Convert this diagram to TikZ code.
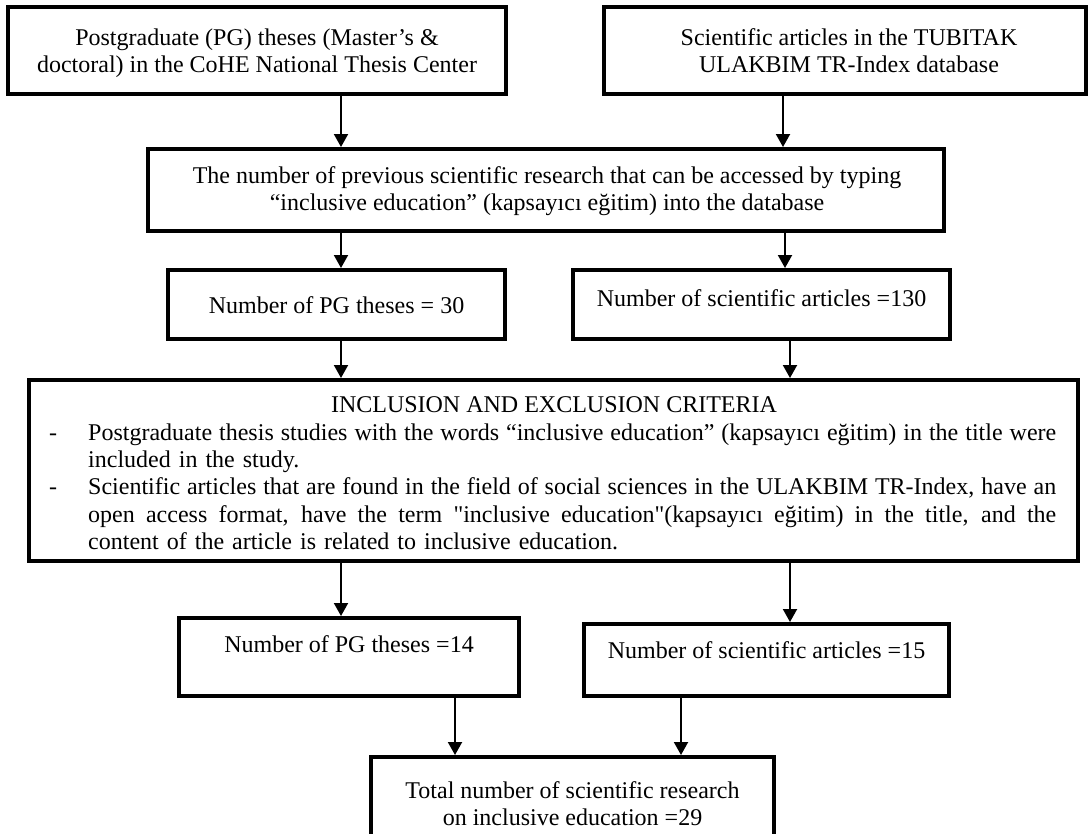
\documentclass[tikz,border=0pt]{standalone}
\usepackage{fontspec}
\setmainfont{Liberation Serif}
\newfontfamily\rawq{Liberation Serif}[Ligatures=TeXOff]
\newcommand\jline[1]{\leavevmode\hbox to 968pt{\spaceskip=0.25em plus 0.6em minus 0.12em\relax #1}}
\usetikzlibrary{arrows.meta}
\begin{document}
\begin{tikzpicture}[x=1pt,y=-1pt,
  box/.style={draw=black, line width=4pt, inner sep=0pt},
  txt/.style={inner sep=0pt, font=\fontsize{24}{27.4}\selectfont, align=center},
  arr/.style={line width=2pt, -{Triangle[length=13pt,width=14pt]}}]
\useasboundingbox (0,0) rectangle (1090,833);
% boxes
\node[box, minimum width=498pt, minimum height=87pt] (b1) at (257,50.5) {};
\node[box, minimum width=482pt, minimum height=87pt] (b2) at (845,50.5) {};
\node[box, minimum width=796pt, minimum height=82pt] (b3) at (546,190) {};
\node[box, minimum width=337pt, minimum height=69pt] (b4) at (336.5,304.5) {};
\node[box, minimum width=377pt, minimum height=69pt] (b5) at (761.5,304.5) {};
\node[box, minimum width=1049pt, minimum height=181pt] (b6) at (553.5,470.5) {};
\node[box, minimum width=340pt, minimum height=78pt] (b7) at (349,657) {};
\node[box, minimum width=365pt, minimum height=72pt] (b8) at (766.5,660) {};
\node[box, minimum width=403pt, minimum height=83pt] (b9) at (572.5,798.5) {};
% texts
\node[txt, anchor=north] (t1) at (257,25.8) {Postgraduate (PG) theses (Master’s \&\strut\\ doctoral) in the CoHE National Thesis Center\strut};
\node[txt, anchor=north] (t2) at (849,25.8) {Scientific articles in the TUBITAK\strut\\ ULAKBIM TR-Index database\strut};
\node[txt, anchor=north] (t3) at (547,163.8) {The number of previous scientific research that can be accessed by typing\strut\\ “inclusive education” (kapsayıcı eğitim) into the database\strut};
\node[txt, anchor=base] (t4) at (336.5,313) {Number of PG theses = 30};
\node[txt, anchor=base] (t5) at (761.5,306) {Number of scientific articles =130};
\node[txt, anchor=base] (t6) at (554,412.6) {INCLUSION AND EXCLUSION CRITERIA};
\node[txt, anchor=base] (d1) at (53,440) {-};
\node[txt, anchor=base] (d2) at (53,494.8) {-};
\node[txt, anchor=north west, align=left, text width=968pt] (c1) at (88,420.8)
  {\jline{Postgraduate thesis studies with the words “inclusive education” (kapsayıcı eğitim) in the title were}\strut\\
   included in the study.\strut};
\node[txt, anchor=north west, align=left, text width=968pt] (c2) at (88,475.6)
  {\jline{Scientific articles that are found in the field of social sciences in the ULAKBIM TR-Index, have an}\strut\\
   \jline{open access format, have the term {\rawq"}inclusive education{\rawq"}(kapsayıcı eğitim) in the title, and the}\strut\\
   content of the article is related to inclusive education.\strut};
\node[txt, anchor=base] (t7) at (349,652) {Number of PG theses =14};
\node[txt, anchor=base] (t8) at (766.5,658) {Number of scientific articles =15};
\node[txt, anchor=north] (t9) at (572.5,778.8) {Total number of scientific research\strut\\ on inclusive education =29\strut};
% arrow columns
\coordinate (xa) at (341,0);
\coordinate (xb) at (783,0);
\coordinate (xc) at (785,0);
\coordinate (xd) at (790,0);
\coordinate (xe) at (455,0);
\coordinate (xf) at (681,0);
% connectors
\draw[arr] (b1.south -| xa) -- (b3.north -| xa);
\draw[arr] (b2.south -| xb) -- (b3.north -| xb);
\draw[arr] (b3.south -| xa) -- (b4.north -| xa);
\draw[arr] (b3.south -| xc) -- (b5.north -| xc);
\draw[arr] (b4.south -| xa) -- (b6.north -| xa);
\draw[arr] (b5.south -| xd) -- (b6.north -| xd);
\draw[arr] (b6.south -| xa) -- (b7.north -| xa);
\draw[arr] (b6.south -| xd) -- (b8.north -| xd);
\draw[arr] (b7.south -| xe) -- (b9.north -| xe);
\draw[arr] (b8.south -| xf) -- (b9.north -| xf);
\end{tikzpicture}
\end{document}
